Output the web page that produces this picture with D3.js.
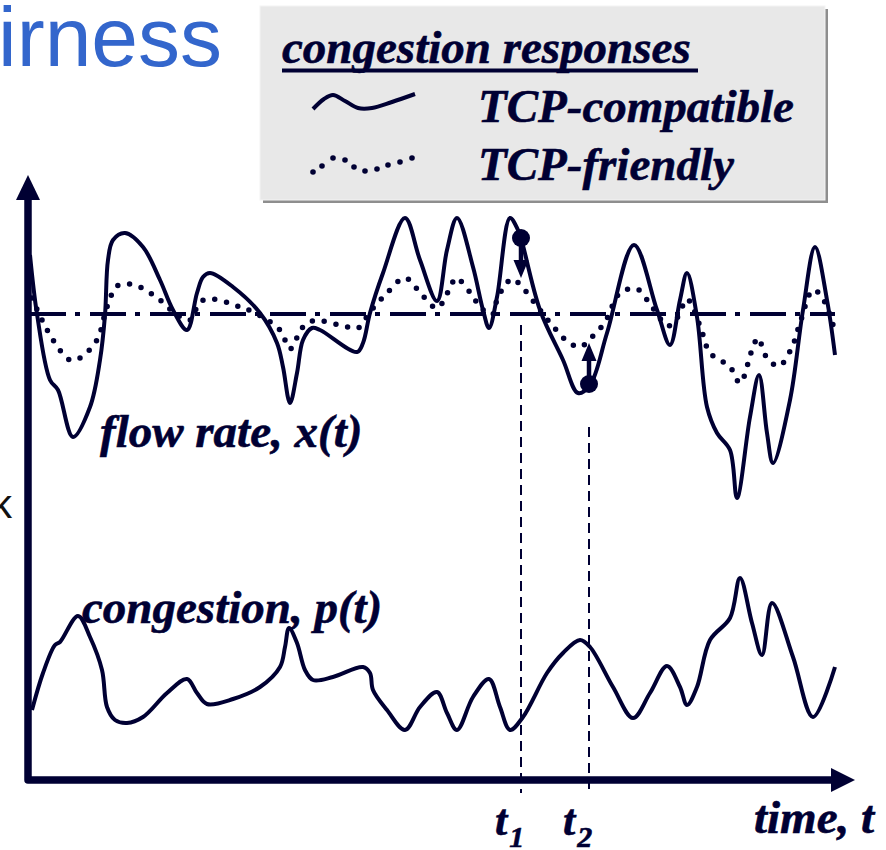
<!DOCTYPE html>
<html><head><meta charset="utf-8">
<script src="https://cdn.jsdelivr.net/npm/d3@7"></script>
<style>html,body{margin:0;padding:0;background:#fff;} svg{display:block;}</style>
</head><body>
<svg id="c" width="886" height="850"></svg>
<script>
// ---- data (time units along the axis, rate/congestion units up the axis) ----
const compatibleTime = [0,7,20,28,43,60,70,75,78,83,95,113,130,143,157,167,173,180,203,230,247,253,260,267,273,282,290,327,333,340,353,375,390,407,417,427,443,453,459,467,480,488,491,510,533,548,560,577,604,627,640,650,657,667,677,687,700,707,720,729,737,743,760,773,785,797,805];
const compatibleRate = [523,464,398,388,341,371,418,463,518,538,545,531,498,468,448,485,501,505,491,465,435,411,375,405,438,450,448,426,435,465,505,560,518,477,528,560,511,468,450,481,560,548,540,468,418,385,393,445,533,468,433,478,505,461,371,345,328,280,361,403,345,315,378,468,531,478,423];
const friendlyTime = [2,13,25,40,50,67,77,87,98,110,130,147,160,170,183,207,223,250,260,272,282,293,317,328,340,357,375,392,407,420,426,442,450,462,468,482,492,507,522,538,550,560,575,590,607,622,638,647,657,663,672,680,700,710,722,728,737,749,762,770,783,792,804];
const friendlyRate = [480,456,435,418,420,438,471,492,494,491,478,463,458,476,479,472,466,448,429,450,457,457,451,450,466,485,500,483,470,490,500,483,471,463,481,499,491,472,453,436,431,439,456,485,489,471,452,460,479,470,446,425,411,395,428,440,420,412,431,455,488,481,450];
const congestionTime = [2,13,25,30,48,60,72,77,85,97,113,137,157,167,177,203,230,250,255,259,267,275,283,303,333,340,343,357,375,390,407,417,427,443,459,470,480,493,517,533,550,560,583,603,620,637,650,657,667,680,700,710,722,732,742,763,783,805];
const congestionLevel = [68,105,133,136,162,141,108,71,58,55,61,85,99,85,74,79,91,111,131,150,135,108,98,101,111,105,88,68,48,71,86,65,48,81,99,71,48,61,105,125,138,131,91,60,85,112,91,73,91,138,160,200,155,123,175,121,61,111];
const fairRate = 464;
const markTimes = [491, 559];
const markSubscripts = ["1", "2"];
const markFromRate = [540, 394];
const markToRate = [500, 435];
const markLineTop = [453, 351];
const legendLabels = ["TCP-compatible", "TCP-friendly"];
const legendTitle = "congestion responses";

const NAVY = "#000033";
const svg = d3.select("#c");
const x = d3.scaleLinear().domain([0, 805]).range([30, 835]);
const y = d3.scaleLinear().domain([0, 600]).range([778, 178]);
const serif = "'Liberation Serif','Times New Roman',serif";

// title fragment
svg.append("text").attr("x", -2).attr("y", 66)
  .attr("font-family", "'Liberation Sans',Arial,sans-serif").attr("font-size", 84)
  .attr("fill", "#3366cc").text("irness");

// partial letter at left edge
svg.append("text").attr("x", -8).attr("y", 518)
  .attr("font-family", "'Liberation Sans',Arial,sans-serif").attr("font-size", 40)
  .attr("fill", "#111").text("k");

function label(txt, xx, yy, size) {
  return svg.append("text").attr("x", xx).attr("y", yy).attr("font-family", serif).attr("font-weight", "bold")
    .attr("font-style", "italic").attr("font-size", size || 47).attr("fill", NAVY)
    .attr("stroke", NAVY).attr("stroke-width", 0.6).text(txt);
}

// legend box
svg.append("rect").attr("x", 263).attr("y", 9).attr("width", 565).attr("height", 194).attr("fill", "#8e8e8e");
svg.append("rect").attr("x", 260).attr("y", 6).attr("width", 565).attr("height", 194).attr("fill", "#e8e8e8").attr("stroke", "#f4f4f4").attr("stroke-width", 1);
label(legendTitle, 282, 63);
svg.append("rect").attr("x", 282).attr("y", 68.5).attr("width", 416).attr("height", 4).attr("fill", NAVY);
legendLabels.forEach((l, i) => label(l, 478, 122 + i * 58));
const sampleLine = d3.line().curve(d3.curveCatmullRom.alpha(0.5));
svg.append("path").attr("d", sampleLine([[313,109],[324,99],[333,95],[345,101],[358,108],[372,108],[392,102],[415,94]]))
  .attr("fill", "none").attr("stroke", NAVY).attr("stroke-width", 4);
svg.append("g").selectAll("circle").data([[313,172],[322,166],[333,158],[345,160],[354,167],[365,171],[377,169],[388,165],[400,162],[412,158]])
  .join("circle").attr("cx", d => d[0]).attr("cy", d => d[1]).attr("r", 2.8).attr("fill", NAVY);

// fair-rate reference line
svg.append("line").attr("x1", x(0)).attr("x2", x(805)).attr("y1", y(fairRate)).attr("y2", y(fairRate))
  .attr("stroke", NAVY).attr("stroke-width", 4).attr("stroke-dasharray", "36,9,5,10");

// vertical dashed markers
markTimes.forEach((t, i) => {
  svg.append("line").attr("x1", x(t)).attr("x2", x(t)).attr("y1", y(markLineTop[i])).attr("y2", y(-15))
    .attr("stroke", NAVY).attr("stroke-width", 2).attr("stroke-dasharray", "10,6");
});

const line = d3.line().x(d => x(d[0])).y(d => y(d[1])).curve(d3.curveCatmullRom.alpha(0.5));

// TCP-friendly dotted
svg.append("path").attr("d", line(d3.zip(friendlyTime, friendlyRate)))
  .attr("fill", "none").attr("stroke", NAVY).attr("stroke-width", 5.5)
  .attr("stroke-linecap", "round").attr("stroke-dasharray", "0,12");

// TCP-compatible solid
svg.append("path").attr("d", line(d3.zip(compatibleTime, compatibleRate)))
  .attr("fill", "none").attr("stroke", NAVY).attr("stroke-width", 4).attr("stroke-linejoin", "round");

// congestion
svg.append("path").attr("d", line(d3.zip(congestionTime, congestionLevel)))
  .attr("fill", "none").attr("stroke", NAVY).attr("stroke-width", 4).attr("stroke-linejoin", "round");

// arrows at marks
markTimes.forEach((t, i) => {
  const cx = x(t), cy0 = y(markFromRate[i]), tip = y(markToRate[i]);
  const dir = Math.sign(tip - cy0);
  const base = tip - dir * 18;
  svg.append("line").attr("x1", cx).attr("x2", cx).attr("y1", cy0).attr("y2", base)
    .attr("stroke", NAVY).attr("stroke-width", 4.5);
  svg.append("path").attr("d", `M${cx - 7.5},${base}L${cx + 7.5},${base}L${cx},${tip}Z`).attr("fill", NAVY);
  svg.append("circle").attr("cx", cx).attr("cy", cy0).attr("r", 9).attr("fill", NAVY);
});

// axes
svg.append("path").attr("d", `M28,199L28,780L833,780`).attr("fill", "none")
  .attr("stroke", NAVY).attr("stroke-width", 7.5).attr("stroke-linejoin", "round");
svg.append("path").attr("d", "M28,175L40,200L16,200Z").attr("fill", NAVY);
svg.append("path").attr("d", "M855,780L831,768L831,792Z").attr("fill", NAVY);

// labels
label("flow rate, x(t)", 100, 447);
label("congestion, p(t)", 82, 623);
label("time, t", 754, 833);
markTimes.forEach((t, i) => {
  const tx = label("t", x(t) - 26, 835, 44);
  tx.append("tspan").attr("font-size", 30).attr("dy", 12).attr("dx", 2).text(markSubscripts[i]);
});
</script>
</body></html>
